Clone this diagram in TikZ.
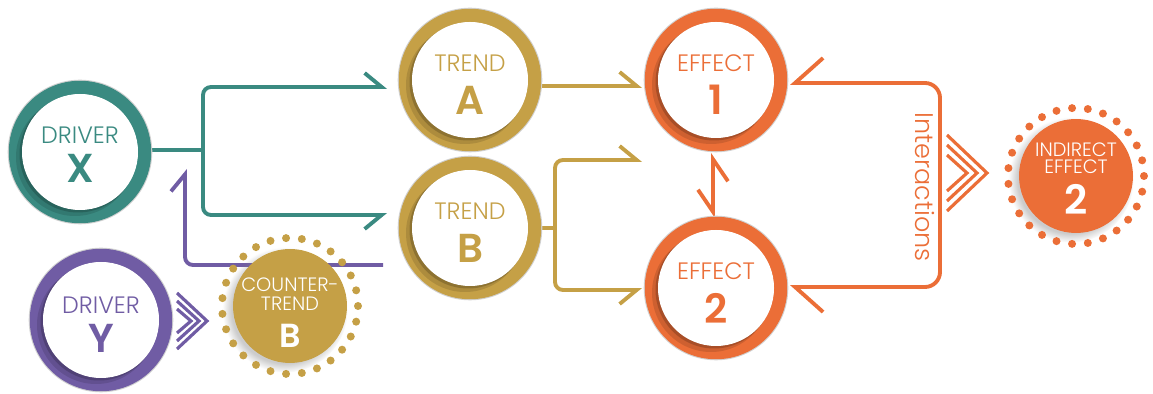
\documentclass[tikz,border=0pt]{standalone}
\usepackage{fontspec}
\setmainfont{Poppins}[UprightFont={* Light}, BoldFont={* SemiBold}]
\usetikzlibrary{arrows.meta,backgrounds,shadows,calc}
\definecolor{tealc}{HTML}{3A8A81}
\definecolor{purplec}{HTML}{705CA4}
\definecolor{goldc}{HTML}{C5A046}
\definecolor{orangec}{HTML}{EB6E37}
\tikzset{
  ring/.style={circle, minimum size=2.58cm, inner sep=0pt, draw=black!18, line width=.6pt, double=#1, double distance=.27cm},
  spot/.style={circle, minimum size=2.28cm, inner sep=0pt, fill=#1, circular drop shadow={shadow xshift=-.09cm, shadow yshift=-.07cm, opacity=.4}},
  small/.style={text=#1, font=\fontsize{13.5}{13.5}\selectfont, inner sep=0pt},
  tiny/.style={text=#1, font=\fontsize{11}{11}\selectfont, inner sep=0pt},
  big/.style={text=#1, font=\fontsize{23}{23}\selectfont\bfseries, inner sep=0pt},
  link/.style={draw=#1, line width=2.2pt, rounded corners=.16cm},
  chev/.style={draw=#1, line width=1.8pt},
  harp/.style={-{Straight Barb[harpoon, length=.34cm, width=.56cm]}},
  harpsw/.style={-{Straight Barb[harpoon, swap, length=.34cm, width=.56cm]}}
}
\begin{document}
\begin{tikzpicture}[x=.02cm,y=-.02cm]
\useasboundingbox (0,0) rectangle (1153,394);

\node [ring=tealc] (drx) at (80,152) {};
\node [ring=purplec] (dry) at (101,320) {};
\node [ring=goldc] (tra) at (470,80) {};
\node [ring=goldc] (trb) at (470,228) {};
\node [ring=orangec] (ef1) at (716,80) {};
\node [ring=orangec] (ef2) at (716,288) {};

\foreach \n in {drx,dry,tra,trb,ef1,ef2} {
  \fill [black, opacity=.12] ([shift={(-5,5)}]\n.center) circle (59);
  \fill [black, opacity=.18] ([shift={(-2,2)}]\n.center) circle (58.5);
  \fill [white] (\n.center) circle (58);
}

\node [spot=goldc] (ctb) at (290,306) {};
\node [spot=orangec] (ind) at (1076,176) {};
\foreach \i in {1,...,27} {
  \fill [goldc] ($(ctb)+({\i*360/27}:68)$) circle (4);
  \fill [orangec] ($(ind)+({\i*360/27}:68)$) circle (4);
}

\node [small=tealc] (drx-a) at ([yshift=.34cm]drx) {DRIVER};
\node [big=tealc] (drx-b) at ([yshift=-.33cm]drx) {X};
\node [small=purplec] (dry-a) at ([yshift=.3cm]dry) {DRIVER};
\node [big=purplec] (dry-b) at ([yshift=-.36cm]dry) {Y};
\node [small=goldc] (tra-a) at ([yshift=.33cm]tra) {TREND};
\node [big=goldc] (tra-b) at ([yshift=-.4cm]tra) {A};
\node [small=goldc] (trb-a) at ([yshift=.33cm]trb) {TREND};
\node [big=goldc] (trb-b) at ([yshift=-.4cm]trb) {B};
\node [small=orangec] (ef1-a) at ([yshift=.33cm]ef1) {EFFECT};
\node [big=orangec] (ef1-b) at ([yshift=-.4cm]ef1) {1};
\node [small=orangec] (ef2-a) at ([yshift=.33cm]ef2) {EFFECT};
\node [big=orangec] (ef2-b) at ([yshift=-.4cm]ef2) {2};
\node [tiny=white] (ctb-a) at ([yshift=.42cm]ctb) {COUNTER-};
\node [tiny=white] (ctb-b) at ([yshift=.04cm]ctb) {TREND};
\node [big=white, font=\fontsize{19}{19}\selectfont\bfseries] (ctb-c) at ([yshift=-.6cm]ctb) {B};
\node [tiny=white] (ind-a) at ([yshift=.52cm]ind) {INDIRECT};
\node [tiny=white] (ind-b) at ([yshift=.18cm]ind) {EFFECT};
\node [big=white] (ind-c) at ([yshift=-.46cm]ind) {2};
\node [rotate=-90, text=orangec, font=\fontsize{14.5}{14.5}\selectfont] (inter) at (925,187) {Interactions};

\foreach \d in {0,8,16}
  \draw [chev=purplec] (177,{293+\d}) -- ({207-\d},321) -- (177,{349-\d});
\foreach \d in {0,10,20}
  \draw [chev=orangec] (947,{135+\d}) -- ({987-\d},173) -- (947,{211-\d});

\begin{scope}[on background layer]
\coordinate (jx) at (203,150);
\coordinate (tra-in) at (387,87);
\coordinate (trb-in) at (387,215);
\draw [link=tealc] (drx.east |- jx) -- (jx);
\draw [link=tealc, harp] (jx) |- (tra-in);
\draw [link=tealc, harpsw] (jx) |- (trb-in);

\coordinate (pu-a) at (383,265);
\coordinate (pu-b) at (185,169);
\draw [link=purplec, harp] (pu-a) -| (pu-b);

\coordinate (ef1-in) at (642,86);
\coordinate (gj) at (555,228);
\coordinate (ef1-lo) at (642,160);
\coordinate (ef2-in) at (642,290);
\draw [link=goldc, harp] (tra.east |- ef1-in) -- (ef1-in);
\draw [link=goldc] (trb.east) -- (gj);
\draw [link=goldc, harp] (gj) |- (ef1-lo);
\draw [link=goldc, harpsw] (gj) |- (ef2-in);

\coordinate (ef1-dn) at (713,153);
\coordinate (ef2-up) at (713,218);
\draw [link=orangec, {Straight Barb[harpoon, swap, length=.44cm, width=.6cm]}-{Straight Barb[harpoon, swap, length=.44cm, width=.6cm]}] (ef1-dn) -- (ef2-up);

\coordinate (ef1-rt) at (790,83);
\coordinate (bx) at (940,185);
\coordinate (ef2-rt) at (790,287);
\draw [link=orangec, rounded corners=.3cm, {Straight Barb[harpoon, swap, length=.56cm, width=1cm]}-{Straight Barb[harpoon, length=.56cm, width=1cm]}] (ef1-rt) -| (bx) |- (ef2-rt);
\end{scope}
\end{tikzpicture}
\end{document}
